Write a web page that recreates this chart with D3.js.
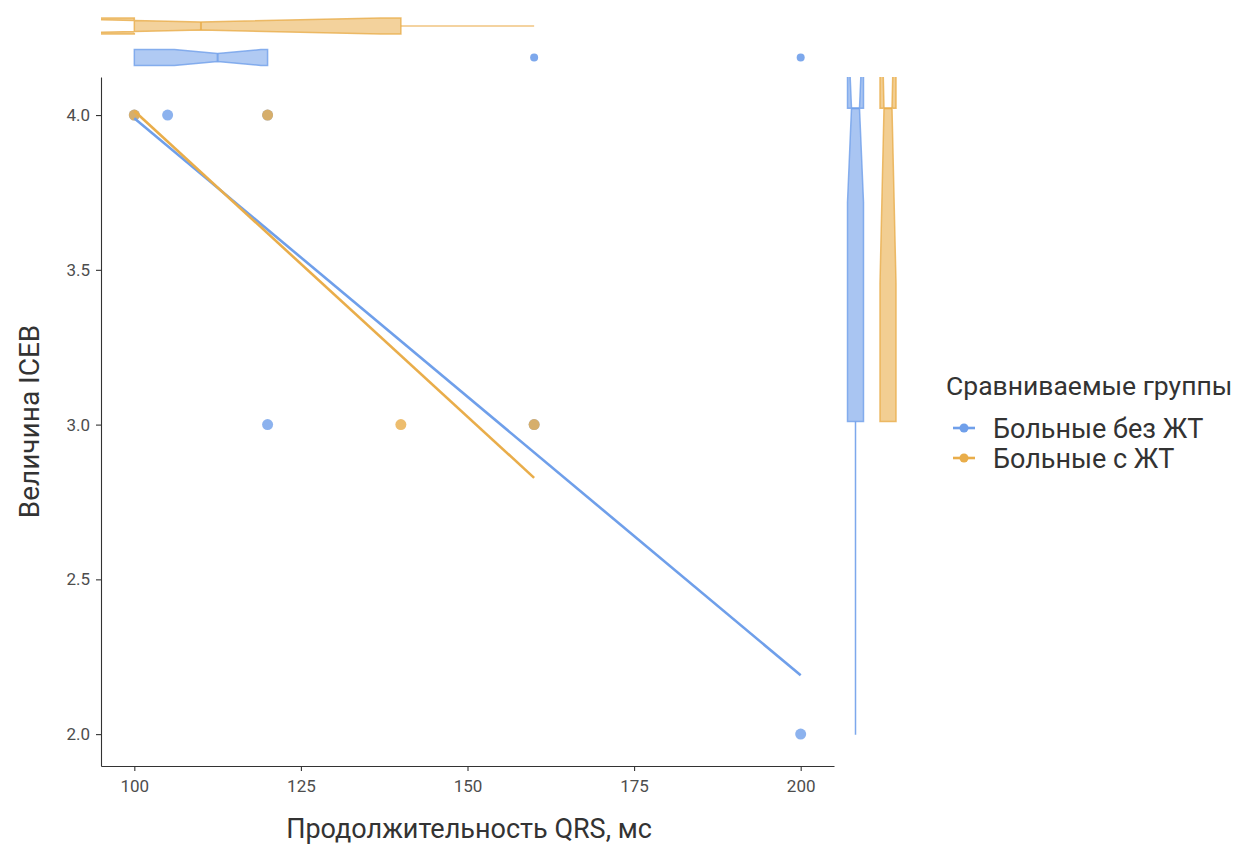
<!DOCTYPE html>
<html>
<head>
    <meta charset="utf-8">
    <title>ICEB vs QRS</title>
    <script src="https://cdn.jsdelivr.net/npm/d3@7/dist/d3.min.js"></script>
    <style>
        body { margin: 0; background: #fff; }
        text { font-family: Roboto, "Liberation Sans", sans-serif; }
    </style>
</head>
<body>
<script>
    // groups and colours
    var groups = ["Больные без ЖТ", "Больные с ЖТ"];
    var colors = ["#6f9fea", "#e9ad4a"];

    // raw points per group
    var pointsX = [[100, 105, 120, 120, 160, 200], [100, 120, 140, 160]];
    var pointsY = [[4, 4, 4, 3, 3, 2], [4, 4, 3, 3]];

    // linear fit ends per group
    var fitX0 = [100, 100];
    var fitX1 = [200, 160];
    var fitY0 = [3.99, 4.013];
    var fitY1 = [2.19, 2.828];

    // top marginal box stats (along x)
    var bxLower = [100, 100];
    var bxMiddle = [112.5, 110];
    var bxUpper = [120, 140];
    var bxNotchLo = [106, 83];
    var bxNotchHi = [119, 137];
    var bxWhiskMin = [100, 100];
    var bxWhiskMax = [120, 160];
    var bxOutliers = [[160, 200], []];

    // right marginal box stats (along y)
    var byLower = [3, 3];
    var byMiddle = [4, 4];
    var byUpper = [4, 4];
    var byNotchLo = [3.70, 3.44];
    var byNotchHi = [4.30, 4.56];
    var byWhiskMin = [2, 3];
    var byWhiskMax = [4, 4];

    var xTicks = [100, 125, 150, 175, 200];
    var yTicks = [2.0, 2.5, 3.0, 3.5, 4.0];

    var width = 1239, height = 845;
    var pL = 101, pR = 834, pT = 77, pB = 766;

    var svg = d3.select("body").append("svg")
        .attr("width", width)
        .attr("height", height);

    var x = d3.scaleLinear().domain([95, 205]).range([pL, pR]);
    var y = d3.scaleLinear().domain([1.897, 4.123]).range([pB, pT]);
    var yMarg = d3.scaleLinear().domain([1.9, 4.1]).range([pB, pT]);
    var topPos = d3.scalePoint().domain(groups).range([57.5, 26]);
    var rightPos = d3.scalePoint().domain(groups).range([855.5, 888]);

    var defs = svg.append("defs");
    defs.append("clipPath").attr("id", "clipTop")
        .append("rect").attr("x", pL).attr("y", 0).attr("width", pR - pL).attr("height", pT);
    defs.append("clipPath").attr("id", "clipRight")
        .append("rect").attr("x", pR).attr("y", pT).attr("width", 90).attr("height", pB - pT);

    // axes
    var xAxis = svg.append("g")
        .attr("transform", "translate(0," + pB + ")")
        .call(d3.axisBottom(x).tickValues(xTicks).tickSize(5).tickSizeOuter(0).tickPadding(9).tickFormat(d3.format("d")));
    var yAxis = svg.append("g")
        .attr("transform", "translate(" + pL + ",0)")
        .call(d3.axisLeft(y).tickValues(yTicks).tickSize(5).tickSizeOuter(0).tickPadding(6).tickFormat(d3.format(".1f")));
    [xAxis, yAxis].forEach(function (a) {
        a.select(".domain").attr("stroke", "#333").attr("stroke-width", 1.1);
        a.selectAll(".tick line").attr("stroke", "#333").attr("stroke-width", 1.1);
        a.selectAll(".tick text").attr("fill", "#4d4d4d").style("font-size", "17px");
    });

    // points
    var pts = svg.append("g");
    groups.forEach(function (g, i) {
        pts.selectAll(".p" + i)
            .data(d3.range(pointsX[i].length))
            .enter()
            .append("circle")
            .attr("cx", function (k) { return x(pointsX[i][k]); })
            .attr("cy", function (k) { return y(pointsY[i][k]); })
            .attr("r", 5.5)
            .attr("fill", colors[i])
            .attr("fill-opacity", 0.8);
    });

    // fitted lines
    groups.forEach(function (g, i) {
        svg.append("line")
            .attr("x1", x(fitX0[i])).attr("y1", y(fitY0[i]))
            .attr("x2", x(fitX1[i])).attr("y2", y(fitY1[i]))
            .attr("stroke", colors[i])
            .attr("stroke-width", 2.6)
            .attr("stroke-linecap", "butt");
    });

    // top marginal boxplots
    var gTop = svg.append("g").attr("clip-path", "url(#clipTop)");
    var hw = 8;
    groups.forEach(function (g, i) {
        var c = topPos(g);
        var col = colors[i];
        gTop.append("line")
            .attr("x1", x(bxUpper[i])).attr("x2", x(bxWhiskMax[i]))
            .attr("y1", c).attr("y2", c)
            .attr("stroke", col).attr("stroke-opacity", 0.7).attr("stroke-width", 1.5);
        gTop.append("line")
            .attr("x1", x(bxLower[i])).attr("x2", x(bxWhiskMin[i]))
            .attr("y1", c).attr("y2", c)
            .attr("stroke", col).attr("stroke-opacity", 0.7).attr("stroke-width", 1.5);
        var poly = [
            [bxUpper[i], c - hw], [bxNotchHi[i], c - hw], [bxMiddle[i], c - hw / 2],
            [bxNotchLo[i], c - hw], [bxLower[i], c - hw],
            [bxLower[i], c + hw], [bxNotchLo[i], c + hw], [bxMiddle[i], c + hw / 2],
            [bxNotchHi[i], c + hw], [bxUpper[i], c + hw]
        ];
        gTop.append("path")
            .attr("d", d3.line().x(function (p) { return x(p[0]); }).y(function (p) { return p[1]; })(poly) + "Z")
            .attr("fill", col).attr("fill-opacity", 0.55)
            .attr("stroke", col).attr("stroke-opacity", 0.8).attr("stroke-width", 1.5);
        gTop.append("line")
            .attr("x1", x(bxMiddle[i])).attr("x2", x(bxMiddle[i]))
            .attr("y1", c - hw / 2).attr("y2", c + hw / 2)
            .attr("stroke", col).attr("stroke-opacity", 0.8).attr("stroke-width", 2);
        gTop.selectAll(".o" + i)
            .data(bxOutliers[i])
            .enter()
            .append("circle")
            .attr("cx", function (d) { return x(d); })
            .attr("cy", c)
            .attr("r", 4)
            .attr("fill", col).attr("fill-opacity", 0.9);
    });

    // right marginal boxplots
    var gRight = svg.append("g").attr("clip-path", "url(#clipRight)");
    groups.forEach(function (g, i) {
        var c = rightPos(g);
        var col = colors[i];
        gRight.append("line")
            .attr("y1", yMarg(byLower[i])).attr("y2", yMarg(byWhiskMin[i]))
            .attr("x1", c).attr("x2", c)
            .attr("stroke", col).attr("stroke-opacity", 0.9).attr("stroke-width", 1.5);
        gRight.append("line")
            .attr("y1", yMarg(byUpper[i])).attr("y2", yMarg(byWhiskMax[i]))
            .attr("x1", c).attr("x2", c)
            .attr("stroke", col).attr("stroke-opacity", 0.9).attr("stroke-width", 1.5);
        var poly = [
            [c - hw, byUpper[i]], [c - hw, byNotchHi[i]], [c - hw / 2, byMiddle[i]],
            [c - hw, byNotchLo[i]], [c - hw, byLower[i]],
            [c + hw, byLower[i]], [c + hw, byNotchLo[i]], [c + hw / 2, byMiddle[i]],
            [c + hw, byNotchHi[i]], [c + hw, byUpper[i]]
        ];
        gRight.append("path")
            .attr("d", d3.line().x(function (p) { return p[0]; }).y(function (p) { return yMarg(p[1]); })(poly) + "Z")
            .attr("fill", col).attr("fill-opacity", 0.6)
            .attr("stroke", col).attr("stroke-opacity", 0.8).attr("stroke-width", 1.5);
        gRight.append("line")
            .attr("y1", yMarg(byMiddle[i])).attr("y2", yMarg(byMiddle[i]))
            .attr("x1", c - hw / 2).attr("x2", c + hw / 2)
            .attr("stroke", col).attr("stroke-opacity", 0.8).attr("stroke-width", 2);
    });

    // axis titles
    svg.append("text")
        .attr("x", 469).attr("y", 838)
        .attr("text-anchor", "middle")
        .attr("fill", "#333")
        .style("font-size", "27px")
        .text("Продолжительность QRS, мс");
    svg.append("text")
        .attr("transform", "translate(39," + ((pT + pB) / 2) + ") rotate(-90)")
        .attr("text-anchor", "middle")
        .attr("fill", "#333")
        .style("font-size", "28px")
        .text("Величина ICEB");

    // legend
    var legend = svg.append("g").attr("transform", "translate(946,0)");
    legend.append("text")
        .attr("x", 0).attr("y", 395)
        .attr("fill", "#333")
        .style("font-size", "26.5px")
        .text("Сравниваемые группы");
    groups.forEach(function (g, i) {
        var ly = 428 + i * 30;
        legend.append("line")
            .attr("x1", 7).attr("x2", 29).attr("y1", ly).attr("y2", ly)
            .attr("stroke", colors[i]).attr("stroke-width", 2.6);
        legend.append("circle")
            .attr("cx", 18).attr("cy", ly).attr("r", 4.5)
            .attr("fill", colors[i]);
        legend.append("text")
            .attr("x", 47).attr("y", ly + 9.5)
            .attr("fill", "#333")
            .style("font-size", "27px")
            .text(g);
    });
</script>
</body>
</html>
